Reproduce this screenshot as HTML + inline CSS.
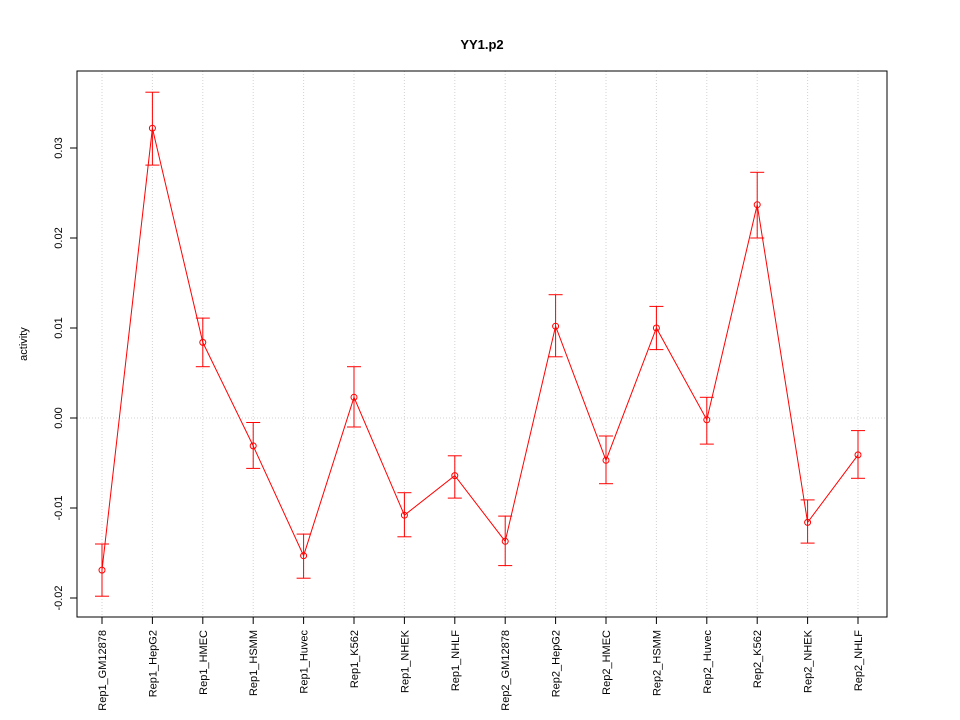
<!DOCTYPE html>
<html><head><meta charset="utf-8"><style>body{margin:0;background:#fff}svg{display:block}text{font-family:"Liberation Sans",sans-serif}</style></head>
<body>
<svg id="c" width="960" height="720" xmlns="http://www.w3.org/2000/svg"></svg>
<script>
const categories=["Rep1_GM12878","Rep1_HepG2","Rep1_HMEC","Rep1_HSMM","Rep1_Huvec","Rep1_K562","Rep1_NHEK","Rep1_NHLF","Rep2_GM12878","Rep2_HepG2","Rep2_HMEC","Rep2_HSMM","Rep2_Huvec","Rep2_K562","Rep2_NHEK","Rep2_NHLF"];
const values=[-0.0169,0.0322,0.0084,-0.0031,-0.0153,0.0023,-0.0108,-0.0064,-0.0137,0.0102,-0.0047,0.0100,-0.0002,0.0237,-0.0116,-0.0041];
const upper=[-0.0140,0.0362,0.0111,-0.0005,-0.0129,0.0057,-0.0083,-0.0042,-0.0109,0.0137,-0.0020,0.0124,0.0023,0.0273,-0.0091,-0.0014];
const lower=[-0.0198,0.0281,0.0057,-0.0056,-0.0178,-0.0010,-0.0132,-0.0089,-0.0164,0.0068,-0.0073,0.0076,-0.0029,0.0200,-0.0139,-0.0067];
const yTicks=[-0.02,-0.01,0.00,0.01,0.02,0.03];
const yTickLabels=["-0.02","-0.01","0.00","0.01","0.02","0.03"];
const svg=document.getElementById('c');const NS="http://www.w3.org/2000/svg";
const X=i=>102+i*(858-102)/(categories.length-1);
const Y=v=>418-v*9000;
function mk(t,a,name,p){const e=document.createElementNS(NS,t);for(const k in a)e.setAttribute(k,a[k]);


(p||svg).appendChild(e);return e;}
// grid
categories.forEach((c,i)=>mk('line',{x1:X(i),x2:X(i),y1:71,y2:617,stroke:'#d3d3d3','stroke-dasharray':'1,2'},'x-gridline'));
mk('line',{x1:77,x2:887,y1:Y(0),y2:Y(0),stroke:'#d3d3d3','stroke-dasharray':'1,2'},'zero-gridline');
mk('rect',{x:77,y:71,width:810,height:546,fill:'none',stroke:'#000'},'plot-frame');
// y axis
mk('line',{x1:77,x2:77,y1:Y(-0.02),y2:Y(0.03),stroke:'#000'},'y-axis');
yTicks.forEach((v,i)=>{mk('line',{x1:70,x2:77,y1:Y(v),y2:Y(v),stroke:'#000'},'y-tick');
const t=mk('text',{x:62,y:Y(v),'font-size':11,'text-anchor':'middle',transform:`rotate(-90 62 ${Y(v)})`},'y-tick-label');t.textContent=yTickLabels[i];});
// x axis
mk('line',{x1:X(0),x2:X(categories.length-1),y1:617,y2:617,stroke:'#000'},'x-axis');
categories.forEach((c,i)=>{mk('line',{x1:X(i),x2:X(i),y1:617,y2:624,stroke:'#000'},'x-tick');
const t=mk('text',{x:X(i)+4,y:630,'font-size':11,'text-anchor':'end',transform:`rotate(-90 ${X(i)+4} 630)`},'x-tick-label');t.textContent=c;});
let tt=mk('text',{x:482,y:49,'font-size':13,'font-weight':'bold','text-anchor':'middle'},'chart-title');tt.textContent='YY1.p2';
tt=mk('text',{x:27,y:344,'font-size':11,'text-anchor':'middle',transform:'rotate(-90 27 344)'},'y-axis-title');tt.textContent='activity';
// series
mk('polyline',{points:values.map((v,i)=>X(i)+','+Y(v)).join(' '),fill:'none',stroke:'#ff0000'},'series-line');
values.forEach((v,i)=>{const x=X(i);
mk('line',{x1:x,x2:x,y1:Y(upper[i]),y2:Y(lower[i]),stroke:'#ff0000'},'error-bar');
mk('line',{x1:x-7,x2:x+7,y1:Y(upper[i]),y2:Y(upper[i]),stroke:'#ff0000'},'error-cap-upper');
mk('line',{x1:x-7,x2:x+7,y1:Y(lower[i]),y2:Y(lower[i]),stroke:'#ff0000'},'error-cap-lower');
mk('circle',{cx:x,cy:Y(v),r:3,fill:'none',stroke:'#ff0000'},'data-point');});
</script>
</body></html>
